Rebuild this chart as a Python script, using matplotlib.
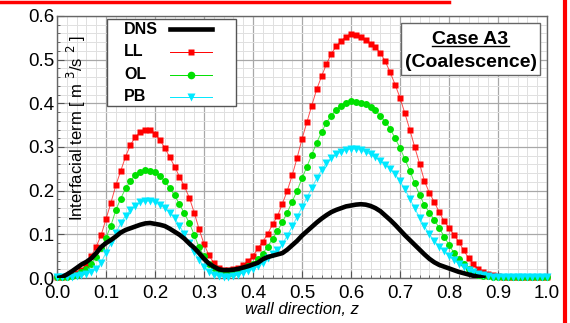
import matplotlib.pyplot as plt
import numpy as np
from matplotlib.lines import Line2D
from matplotlib.patches import Rectangle

plt.rcParams['font.family'] = ['Liberation Sans', 'DejaVu Sans']

# wall-normal positions of the model samples
z = np.round(np.arange(0, 1.001, 0.01), 2)

# LL model
ll = [0.002, 0.002, 0.004, 0.007, 0.012, 0.019, 0.030, 0.050, 0.072, 0.098,
      0.135, 0.172, 0.212, 0.245, 0.278, 0.305, 0.323, 0.334, 0.340, 0.340,
      0.330, 0.316, 0.298, 0.277, 0.255, 0.232, 0.210, 0.184, 0.150, 0.112,
      0.078, 0.052, 0.035, 0.024, 0.019, 0.018, 0.020, 0.023, 0.030, 0.039,
      0.050, 0.068, 0.083, 0.101, 0.123, 0.142, 0.170, 0.200, 0.235, 0.275,
      0.318, 0.357, 0.395, 0.432, 0.462, 0.490, 0.514, 0.531, 0.543, 0.553,
      0.559, 0.556, 0.552, 0.546, 0.536, 0.528, 0.515, 0.496, 0.471, 0.443,
      0.413, 0.377, 0.340, 0.300, 0.262, 0.222, 0.195, 0.174, 0.151, 0.130,
      0.115, 0.099, 0.083, 0.063, 0.046, 0.031, 0.020, 0.013, 0.009, 0.006,
      0.004, 0.003, 0.003, 0.003, 0.003, 0.003, 0.003, 0.003, 0.003, 0.003,
      0.003]

# OL model
ol = [0.002, 0.002, 0.003, 0.005, 0.008, 0.013, 0.021, 0.033, 0.048, 0.068,
      0.092, 0.120, 0.155, 0.182, 0.205, 0.223, 0.236, 0.243, 0.247, 0.246,
      0.242, 0.233, 0.222, 0.206, 0.189, 0.169, 0.148, 0.126, 0.099, 0.070,
      0.050, 0.033, 0.022, 0.015, 0.011, 0.010, 0.012, 0.016, 0.021, 0.027,
      0.033, 0.043, 0.056, 0.072, 0.090, 0.108, 0.128, 0.150, 0.175, 0.200,
      0.228, 0.255, 0.282, 0.310, 0.334, 0.356, 0.372, 0.385, 0.395, 0.401,
      0.405, 0.404, 0.401, 0.398, 0.391, 0.384, 0.370, 0.358, 0.342, 0.320,
      0.298, 0.272, 0.246, 0.217, 0.190, 0.167, 0.150, 0.133, 0.115, 0.095,
      0.076, 0.058, 0.043, 0.031, 0.021, 0.013, 0.008, 0.005, 0.004, 0.003,
      0.003, 0.003, 0.003, 0.003, 0.003, 0.003, 0.003, 0.003, 0.003, 0.003,
      0.003]

# PB model
pb = [0.002, 0.002, 0.002, 0.003, 0.004, 0.006, 0.009, 0.014, 0.020, 0.035,
      0.058, 0.080, 0.103, 0.125, 0.143, 0.156, 0.166, 0.173, 0.176, 0.176,
      0.173, 0.167, 0.160, 0.150, 0.137, 0.120, 0.100, 0.080, 0.060, 0.042,
      0.026, 0.014, 0.007, 0.004, 0.003, 0.003, 0.005, 0.008, 0.012, 0.016,
      0.020, 0.027, 0.035, 0.045, 0.055, 0.063, 0.078, 0.097, 0.118, 0.140,
      0.162, 0.184, 0.206, 0.228, 0.248, 0.263, 0.275, 0.283, 0.289, 0.293,
      0.295, 0.295, 0.293, 0.289, 0.283, 0.276, 0.268, 0.259, 0.250, 0.238,
      0.222, 0.203, 0.182, 0.160, 0.138, 0.118, 0.100, 0.085, 0.072, 0.062,
      0.050, 0.041, 0.033, 0.026, 0.019, 0.013, 0.009, 0.006, 0.004, 0.003,
      0.003, 0.003, 0.003, 0.003, 0.003, 0.003, 0.003, 0.003, 0.003, 0.003,
      0.003]

# DNS reference (ends near z = 0.87)
z_dns = np.round(np.arange(0, 0.875, 0.01), 2)
dns = [0.000, 0.002, 0.008, 0.015, 0.023, 0.031, 0.037, 0.045, 0.057, 0.071,
       0.080, 0.087, 0.095, 0.104, 0.110, 0.114, 0.118, 0.122, 0.125, 0.126,
       0.124, 0.122, 0.119, 0.113, 0.106, 0.099, 0.090, 0.079, 0.069, 0.057,
       0.044, 0.033, 0.026, 0.020, 0.018, 0.018, 0.019, 0.021, 0.024, 0.027,
       0.031, 0.035, 0.043, 0.048, 0.051, 0.054, 0.057, 0.065, 0.075, 0.085,
       0.097, 0.107, 0.117, 0.127, 0.136, 0.144, 0.151, 0.156, 0.160, 0.164,
       0.166, 0.168, 0.169, 0.168, 0.165, 0.160, 0.153, 0.143, 0.133, 0.122,
       0.110, 0.098, 0.087, 0.076, 0.065, 0.054, 0.044, 0.036, 0.030, 0.026,
       0.022, 0.018, 0.014, 0.011, 0.008, 0.005, 0.003, 0.001]

labels = ['DNS', 'LL', 'OL', 'PB']

red = '#ff0000'
green = '#00e000'
cyan = '#00e8ff'

fig = plt.figure(figsize=(5.7, 3.23), dpi=100)
ax = fig.add_axes([0.1, 0.1393, 0.8596, 0.8112])

# models with thin connecting lines
ax.plot(z, ll, '-', color=red, lw=0.7, alpha=0.7, zorder=3)
ax.plot(z, ll, 's', color=red, ms=4.6, mec='none', zorder=4, clip_on=False)
ax.plot(z, ol, '-', color=green, lw=0.7, alpha=0.7, zorder=3)
ax.plot(z, ol, 'o', color=green, ms=5.0, mec='none', zorder=4, clip_on=False)
ax.plot(z, pb, '-', color=cyan, lw=0.7, alpha=0.7, zorder=3)
ax.plot(z, pb, 'v', color=cyan, ms=6.0, mec='none', zorder=4, clip_on=False)
ax.plot(z_dns, dns, '-', color='black', lw=3.3, zorder=5)

ax.set_xlim(0, 1.0)
ax.set_ylim(0, 0.6)
ax.set_xticks(np.arange(0, 1.01, 0.1))
ax.set_yticks(np.arange(0, 0.61, 0.1))
ax.set_xticks(np.arange(0, 1.01, 0.02), minor=True)
ax.set_yticks(np.arange(0, 0.61, 0.02), minor=True)
ax.xaxis.set_major_formatter(plt.FormatStrFormatter('%.1f'))
ax.yaxis.set_major_formatter(plt.FormatStrFormatter('%.1f'))
ax.grid(which='major', color='#a8a8a8', lw=0.9, zorder=0)
ax.grid(which='minor', color='#e0e0e0', lw=0.7, zorder=0)
ax.set_axisbelow(True)
ax.tick_params(which='both', direction='in', labelsize=13.5, colors='#555555',
               labelcolor='black')
ax.tick_params(axis='x', pad=5)
ax.tick_params(axis='y', pad=2)
ax.tick_params(which='major', length=5)
ax.tick_params(which='minor', length=2.5)
for s in ax.spines.values():
    s.set_color('#666666')
    s.set_linewidth(1.0)

ax.set_xlabel('wall direction, z', fontsize=12, style='italic', labelpad=0)
# y label sits inside the frame, as in the source figure
ax.text(0.040, 0.572, 'Interfacial term [ m $^{3}$/s $^{2}$ ]',
        transform=ax.transAxes, rotation=90, ha='center', va='center',
        fontsize=12, zorder=2)

# legend drawn by hand: labels left-aligned, handles on the right
ax.add_patch(Rectangle((0.102, 0.656), 0.263, 0.333, transform=ax.transAxes,
                       facecolor='white', edgecolor='#555555', lw=1.0,
                       zorder=10))
row_y = [0.950, 0.863, 0.775, 0.691]
styles = [
    dict(color='black', lw=3.3),
    dict(color=red, lw=0.7, marker='s', ms=5, mec='none'),
    dict(color=green, lw=0.7, marker='o', ms=5.5, mec='none'),
    dict(color=cyan, lw=0.7, marker='v', ms=6.2, mec='none'),
]
for lab, yy, st in zip(labels, row_y, styles):
    ax.text(0.137, yy, lab, transform=ax.transAxes, ha='left', va='center',
            fontsize=11.5, fontweight='bold', zorder=11)
    ax.add_line(Line2D([0.231, 0.316], [yy, yy], transform=ax.transAxes,
                       zorder=11, **{k: v for k, v in st.items()
                                     if k not in ('marker', 'ms', 'mec')}))
    if 'marker' in st:
        ax.add_line(Line2D([0.273], [yy], transform=ax.transAxes,
                           color=st['color'], marker=st['marker'],
                           ms=st['ms'], mec='none', ls='none', zorder=12))

# case label box
ax.add_patch(Rectangle((0.702, 0.775), 0.284, 0.198, transform=ax.transAxes,
                       facecolor='white', edgecolor='#666666', lw=1.0,
                       zorder=10))
ax.text(0.844, 0.893, 'Case A3', transform=ax.transAxes, ha='center',
        va='baseline', fontsize=14, fontweight='bold', zorder=11)
ax.plot([0.765, 0.922], [0.884, 0.884], transform=ax.transAxes,
        color='black', lw=1.0, zorder=11)
ax.text(0.844, 0.805, '(Coalescence)', transform=ax.transAxes, ha='center',
        va='baseline', fontsize=14, fontweight='bold', zorder=11)

# red frame fragments from the source page
fig.add_artist(Line2D([0, 449 / 570], [1 - 2 / 323, 1 - 2 / 323],
                      color=red, lw=2.5))
fig.add_artist(Line2D([565 / 570, 565 / 570], [0, 1], color=red, lw=3))

fig.savefig('out.png', dpi=100)
